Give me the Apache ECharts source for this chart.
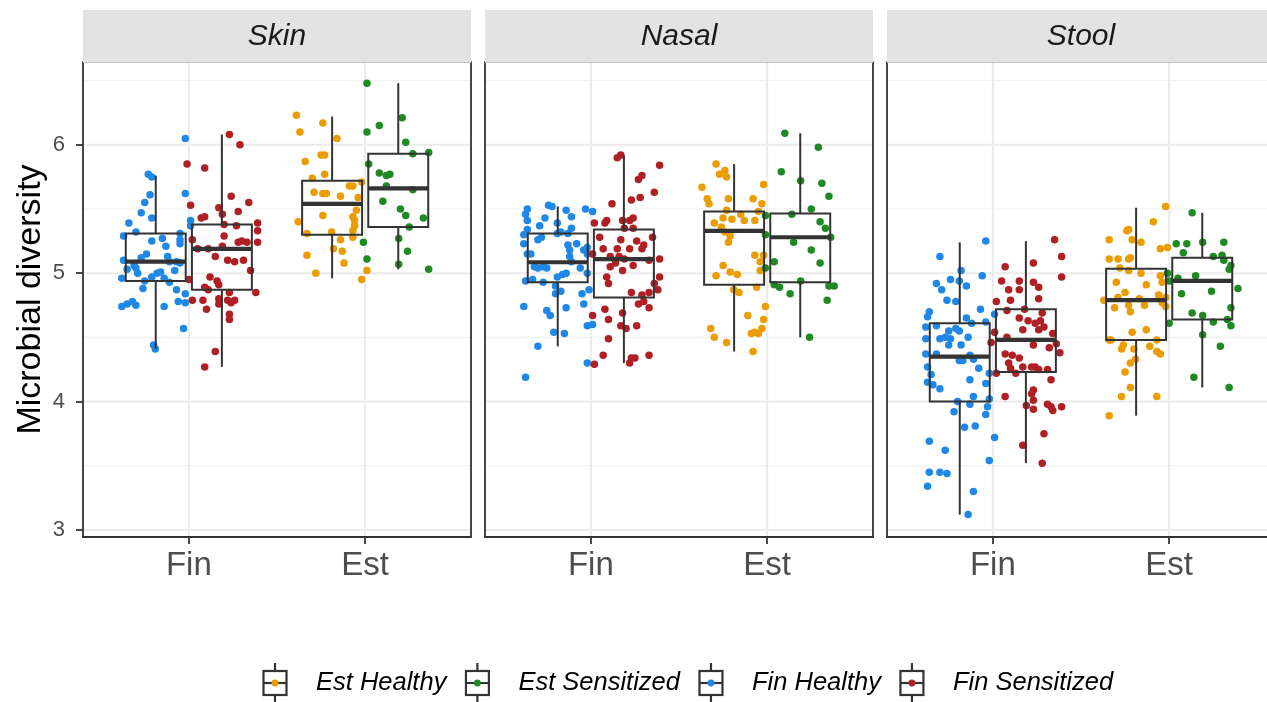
<!DOCTYPE html>
<html>
<head>
<meta charset="utf-8">
<script src="https://cdn.jsdelivr.net/npm/echarts@6/dist/echarts.min.js"></script>
<style>
html,body{margin:0;padding:0;background:#fff;}
#chart{width:1267px;height:702px;}
</style>
</head>
<body>
<div id="chart"></div>
<script>
// ---------------- DATA ----------------
const facets = ['Skin', 'Nasal', 'Stool'];
const xCats = ['Fin', 'Est'];
const yTicks = [3, 4, 5, 6];
const yMinorTicks = [3.5, 4.5, 5.5, 6.5];
const yTitle = 'Microbial diversity';
const groupNames = ['Fin Healthy', 'Fin Sensitized', 'Est Healthy', 'Est Sensitized'];
const legendOrder = ['Est Healthy', 'Est Sensitized', 'Fin Healthy', 'Fin Sensitized'];

// box stats: [lower whisker, Q1, median, Q3, upper whisker]
const skinBoxFinHealthy = [4.41, 4.94, 5.09, 5.31, 5.76];
const skinBoxFinSens    = [4.27, 4.87, 5.19, 5.38, 6.08];
const skinBoxEstHealthy = [4.96, 5.30, 5.54, 5.72, 6.22];
const skinBoxEstSens    = [5.03, 5.36, 5.66, 5.93, 6.48];
const nasalBoxFinHealthy = [4.43, 4.93, 5.085, 5.31, 5.52];
const nasalBoxFinSens    = [4.30, 4.81, 5.11, 5.34, 5.92];
const nasalBoxEstHealthy = [4.39, 4.91, 5.33, 5.48, 5.85];
const nasalBoxEstSens    = [4.50, 4.93, 5.28, 5.465, 6.09];
const stoolBoxFinHealthy = [3.12, 4.00, 4.35, 4.61, 5.24];
const stoolBoxFinSens    = [3.52, 4.23, 4.48, 4.72, 5.25];
const stoolBoxEstHealthy = [3.89, 4.48, 4.79, 5.035, 5.51];
const stoolBoxEstSens    = [4.11, 4.64, 4.94, 5.12, 5.47];

// jittered points: [x position on the category scale (Fin=1, Est=2), diversity]
const skinFinHealthy = [[0.98,6.05],[0.77,5.77],[0.79,5.75],[0.78,5.61],[0.75,5.55],[0.73,5.47],[0.79,5.43],[0.66,5.39],[0.70,5.32],[0.63,5.29],[0.79,5.25],[0.85,5.27],[0.87,5.21],[0.95,5.31],[0.95,5.26],[0.95,5.23],[0.98,5.62],[1.01,5.41],[1.01,5.37],[0.63,5.10],[0.65,5.03],[0.69,5.06],[0.71,5.00],[0.73,5.12],[0.76,5.15],[0.70,5.04],[0.88,5.13],[0.89,5.09],[0.92,5.02],[0.95,5.08],[0.93,5.09],[0.62,4.96],[0.75,4.94],[0.79,4.97],[0.82,5.00],[0.84,5.01],[0.86,4.96],[0.89,4.93],[0.74,4.88],[0.93,4.87],[0.98,4.84],[0.94,4.78],[0.98,4.77],[0.62,4.74],[0.65,4.76],[0.68,4.78],[0.70,4.75],[0.86,4.74],[0.97,4.57],[0.80,4.44],[0.81,4.41]];
const skinFinSens = [[1.23,6.08],[1.29,6.00],[0.99,5.85],[1.09,5.82],[1.24,5.60],[1.01,5.53],[1.34,5.55],[1.17,5.51],[1.19,5.46],[1.28,5.48],[1.07,5.43],[1.09,5.44],[1.20,5.38],[1.27,5.37],[1.39,5.39],[1.39,5.33],[1.02,5.26],[1.20,5.29],[1.05,5.19],[1.11,5.19],[1.19,5.21],[1.28,5.24],[1.30,5.25],[1.33,5.24],[1.39,5.24],[1.15,5.13],[1.22,5.10],[1.26,5.09],[1.31,5.10],[1.35,5.02],[1.00,4.95],[1.12,4.97],[1.16,4.94],[1.17,4.91],[1.09,4.89],[1.11,4.87],[1.23,4.85],[1.38,4.85],[1.02,4.79],[1.08,4.79],[1.17,4.80],[1.17,4.76],[1.22,4.79],[1.26,4.79],[1.24,4.77],[1.10,4.72],[1.23,4.68],[1.23,4.64],[1.15,4.39],[1.09,4.27]];
const skinEstHealthy = [[1.61,6.23],[1.63,6.10],[1.76,6.17],[1.84,6.05],[1.66,5.87],[1.75,5.92],[1.77,5.92],[1.70,5.74],[1.77,5.77],[1.91,5.68],[1.93,5.68],[1.98,5.71],[1.71,5.63],[1.76,5.62],[1.78,5.62],[1.86,5.60],[1.96,5.59],[1.76,5.45],[1.93,5.44],[1.95,5.49],[1.94,5.41],[1.62,5.40],[1.94,5.37],[1.93,5.33],[1.93,5.28],[1.67,5.31],[1.81,5.32],[1.86,5.26],[1.82,5.19],[1.87,5.17],[1.67,5.14],[1.88,5.08],[1.72,5.00],[2.01,5.02],[1.98,4.95]];
const skinEstSens = [[2.01,6.48],[2.08,6.15],[2.01,6.10],[2.21,6.21],[2.23,6.02],[2.27,5.93],[2.36,5.94],[2.02,5.85],[2.08,5.78],[2.12,5.76],[2.14,5.77],[2.12,5.68],[2.27,5.65],[2.10,5.56],[2.20,5.50],[2.23,5.45],[2.33,5.43],[2.25,5.36],[1.99,5.24],[2.19,5.27],[2.24,5.17],[2.01,5.11],[2.19,5.07],[2.36,5.03]];

const nasalFinHealthy = [[0.64,5.50],[0.63,5.46],[0.64,5.41],[0.76,5.53],[0.78,5.52],[0.86,5.49],[0.89,5.44],[0.97,5.50],[1.01,5.48],[0.74,5.43],[0.71,5.37],[0.64,5.34],[0.81,5.39],[0.83,5.32],[0.89,5.35],[0.62,5.30],[0.72,5.28],[0.70,5.26],[0.81,5.31],[0.87,5.31],[0.62,5.23],[0.64,5.15],[0.66,5.15],[0.87,5.22],[0.92,5.23],[0.88,5.18],[0.96,5.18],[0.98,5.20],[0.98,5.15],[0.94,5.04],[0.68,5.05],[0.70,5.04],[0.73,5.05],[0.75,5.04],[0.88,5.13],[0.89,5.09],[0.63,4.94],[0.67,4.95],[0.73,4.93],[0.81,4.97],[0.84,4.99],[0.86,5.00],[0.98,5.00],[0.80,4.90],[0.83,4.86],[0.80,4.84],[0.95,4.84],[0.99,4.87],[0.62,4.74],[0.75,4.71],[0.77,4.67],[0.86,4.73],[0.96,4.76],[0.79,4.54],[0.85,4.53],[0.98,4.59],[1.01,4.60],[0.70,4.43],[0.98,4.30],[0.63,4.19]];
const nasalFinSens = [[1.15,5.90],[1.17,5.92],[1.39,5.84],[1.27,5.73],[1.29,5.76],[1.36,5.63],[1.23,5.57],[1.28,5.59],[1.12,5.54],[1.02,5.39],[1.08,5.39],[1.09,5.41],[1.18,5.41],[1.22,5.41],[1.24,5.43],[1.24,5.35],[1.19,5.35],[1.05,5.28],[1.35,5.28],[1.17,5.26],[1.26,5.25],[1.30,5.22],[1.07,5.19],[1.15,5.19],[1.22,5.19],[1.29,5.19],[1.01,5.15],[1.11,5.13],[1.16,5.13],[1.19,5.11],[1.33,5.10],[1.39,5.11],[1.11,5.05],[1.24,5.06],[1.14,5.08],[1.18,5.02],[1.09,4.97],[1.10,4.92],[1.39,4.97],[1.36,4.92],[1.38,4.87],[1.23,4.85],[1.29,4.83],[1.33,4.85],[1.27,4.76],[1.33,4.73],[1.30,4.78],[1.08,4.72],[1.01,4.67],[1.18,4.69],[1.10,4.64],[1.17,4.59],[1.20,4.57],[1.26,4.59],[1.10,4.49],[1.07,4.36],[1.02,4.29],[1.22,4.30],[1.23,4.34],[1.25,4.34],[1.33,4.36]];
const nasalEstHealthy = [[1.71,5.85],[1.73,5.77],[1.76,5.80],[1.77,5.75],[1.63,5.67],[1.66,5.58],[1.67,5.54],[1.78,5.58],[1.92,5.58],[1.98,5.69],[1.97,5.54],[1.70,5.39],[1.75,5.43],[1.74,5.36],[1.80,5.42],[1.85,5.46],[1.87,5.41],[1.93,5.41],[1.95,5.48],[1.77,5.49],[1.79,5.29],[1.78,5.24],[1.76,5.32],[1.93,5.14],[1.98,5.14],[1.96,5.09],[1.96,5.02],[1.75,5.06],[1.79,5.01],[1.83,4.99],[1.71,4.98],[1.81,4.87],[1.84,4.85],[1.94,4.89],[1.99,4.74],[1.89,4.67],[1.98,4.64],[1.97,4.57],[1.95,4.53],[1.93,4.54],[1.91,4.53],[1.68,4.57],[1.70,4.50],[1.77,4.46],[1.92,4.39]];
const nasalEstSens = [[2.10,6.09],[2.29,5.98],[2.08,5.79],[2.19,5.72],[2.31,5.70],[2.35,5.60],[2.25,5.50],[2.14,5.46],[2.30,5.40],[2.33,5.35],[2.36,5.28],[1.99,5.30],[1.99,5.45],[2.15,5.24],[2.25,5.18],[2.04,5.09],[2.30,5.08],[1.99,5.04],[2.04,4.91],[2.07,4.89],[2.13,4.84],[2.35,4.90],[2.38,4.90],[2.19,4.94],[2.34,4.79],[2.24,4.50]];

const stoolFinHealthy = [[0.96,5.25],[0.70,5.13],[0.82,5.02],[0.76,4.95],[0.81,4.94],[0.68,4.92],[0.71,4.87],[0.85,4.90],[0.94,4.98],[0.74,4.79],[0.79,4.78],[0.64,4.70],[0.63,4.66],[0.93,4.72],[1.01,4.68],[0.85,4.65],[0.88,4.61],[0.96,4.62],[0.62,4.58],[0.68,4.59],[0.75,4.55],[0.79,4.57],[0.81,4.55],[0.62,4.49],[0.70,4.49],[0.73,4.50],[0.76,4.49],[0.75,4.44],[0.82,4.44],[0.86,4.50],[0.62,4.37],[0.68,4.37],[0.87,4.36],[0.89,4.33],[0.81,4.32],[0.83,4.32],[0.63,4.27],[0.92,4.26],[0.65,4.21],[0.98,4.22],[0.63,4.15],[0.66,4.13],[0.70,4.10],[0.87,4.17],[0.96,4.14],[0.89,4.04],[0.80,4.00],[0.87,3.98],[0.98,4.02],[0.97,3.96],[0.78,3.92],[0.96,3.90],[0.84,3.80],[0.90,3.81],[0.64,3.69],[1.01,3.72],[0.73,3.62],[0.98,3.54],[0.64,3.45],[0.70,3.45],[0.74,3.44],[0.63,3.34],[0.89,3.30],[0.86,3.12]];
const stoolFinSens = [[1.35,5.26],[1.39,5.13],[1.23,5.08],[1.39,4.97],[1.07,5.05],[1.05,4.94],[1.15,4.94],[1.23,4.93],[1.26,4.89],[1.09,4.87],[1.15,4.87],[1.26,4.80],[1.02,4.78],[1.10,4.79],[1.08,4.71],[1.18,4.72],[1.28,4.69],[1.15,4.65],[1.20,4.63],[1.24,4.61],[1.27,4.63],[1.29,4.58],[1.17,4.56],[1.26,4.56],[1.01,4.54],[1.34,4.53],[1.08,4.50],[0.99,4.46],[1.36,4.45],[1.32,4.42],[1.38,4.38],[1.23,4.44],[1.07,4.37],[1.11,4.36],[1.15,4.34],[1.09,4.30],[1.10,4.26],[1.17,4.27],[1.22,4.27],[1.24,4.27],[1.26,4.25],[1.31,4.25],[1.13,4.22],[1.02,4.22],[1.33,4.17],[1.23,4.09],[1.22,4.06],[1.23,4.01],[1.07,4.04],[1.19,3.97],[1.23,3.94],[1.31,3.98],[1.33,3.96],[1.34,3.93],[1.39,3.96],[1.29,3.75],[1.17,3.66],[1.28,3.52]];
const stoolEstHealthy = [[1.98,5.52],[1.91,5.40],[1.76,5.33],[1.77,5.34],[1.66,5.26],[1.79,5.26],[1.84,5.24],[1.95,5.19],[1.99,5.20],[1.66,5.11],[1.71,5.11],[1.77,5.11],[1.78,5.12],[1.72,5.04],[1.77,5.02],[1.84,5.00],[1.95,4.98],[1.96,4.93],[1.70,4.93],[1.87,4.91],[1.75,4.85],[1.71,4.81],[1.63,4.79],[1.83,4.80],[1.94,4.83],[1.96,4.77],[1.98,4.81],[1.86,4.75],[1.77,4.75],[1.69,4.73],[1.78,4.70],[1.98,4.74],[1.79,4.54],[1.87,4.56],[1.66,4.48],[1.67,4.48],[1.93,4.48],[1.74,4.44],[1.73,4.41],[1.80,4.41],[1.89,4.43],[1.93,4.39],[1.95,4.37],[1.81,4.33],[1.78,4.30],[1.75,4.23],[1.78,4.11],[1.73,4.04],[1.93,4.04],[1.66,3.89]];
const stoolEstSens = [[2.13,5.47],[2.04,5.23],[2.10,5.23],[2.19,5.24],[2.31,5.24],[2.08,5.16],[2.25,5.13],[2.30,5.14],[2.31,5.10],[2.35,5.06],[2.34,5.03],[1.99,5.00],[2.00,4.94],[2.05,4.96],[2.15,4.98],[2.39,4.88],[2.24,4.86],[2.07,4.84],[2.35,4.73],[2.13,4.69],[2.19,4.67],[2.25,4.62],[2.33,4.64],[2.35,4.59],[2.00,4.61],[2.19,4.52],[2.29,4.43],[2.14,4.19],[2.34,4.11]];

// ---------------- ASSEMBLY ----------------
const boxesByFacet = [
  [skinBoxFinHealthy, skinBoxFinSens, skinBoxEstHealthy, skinBoxEstSens],
  [nasalBoxFinHealthy, nasalBoxFinSens, nasalBoxEstHealthy, nasalBoxEstSens],
  [stoolBoxFinHealthy, stoolBoxFinSens, stoolBoxEstHealthy, stoolBoxEstSens]
];
const pointsByFacet = [
  [skinFinHealthy, skinFinSens, skinEstHealthy, skinEstSens],
  [nasalFinHealthy, nasalFinSens, nasalEstHealthy, nasalEstSens],
  [stoolFinHealthy, stoolFinSens, stoolEstHealthy, stoolEstSens]
];

// styles / layout
const colors = {'Est Healthy':'#ea9c00','Est Sensitized':'#1f8a24','Fin Healthy':'#1f88e6','Fin Sensitized':'#b01f24'};
const groupCat = [0, 0, 1, 1];        // which x category each group belongs to
const groupSide = [-1, 1, -1, 1];     // dodge side
const DODGE = 0.1875, BOX_W = 0.34;
const X_MIN = 0.4, X_MAX = 2.6, Y_MIN = 2.945, Y_MAX = 6.645;
const PANEL_LEFT = [83, 485, 887], PANEL_W = 388, PANEL_TOP = 62, PANEL_H = 475, STRIP_TOP = 10;
const FONT = '"Liberation Sans", Arial, Helvetica, sans-serif';
const DARK = '#333333';

function legendIcon(color){
  const svg = '<svg xmlns="http://www.w3.org/2000/svg" width="49" height="40" viewBox="0 0 49 40">'
   + '<line x1="13" y1="0" x2="13" y2="8" stroke="#333" stroke-width="2.2"/>'
   + '<rect x="1.5" y="8" width="23" height="24" fill="none" stroke="#333" stroke-width="2.2"/>'
   + '<line x1="1.5" y1="20" x2="24.5" y2="20" stroke="#333" stroke-width="2.2"/>'
   + '<line x1="13" y1="32" x2="13" y2="40" stroke="#333" stroke-width="2.2"/>'
   + '<circle cx="13" cy="20" r="3.4" fill="' + color + '"/></svg>';
  return 'image://data:image/svg+xml;charset=utf-8,' + encodeURIComponent(svg);
}

const grids = [], xAxes = [], yAxes = [], series = [], graphics = [];
facets.forEach((name, f) => {
  grids.push({left: PANEL_LEFT[f], top: PANEL_TOP, width: PANEL_W, height: PANEL_H,
    containLabel: false, outerBoundsMode: 'none'});
  xAxes.push({
    type: 'value', gridIndex: f, min: X_MIN, max: X_MAX,
    axisLine: {show: true, onZero: false, lineStyle: {color: DARK, width: 1.8}},
    axisTick: {show: true, length: 7, customValues: [1, 2], lineStyle: {color: DARK, width: 1.8}},
    axisLabel: {show: true, customValues: [1, 2], formatter: v => xCats[Math.round(v) - 1] || '',
      fontSize: 33, color: '#4d4d4d', margin: 12, fontFamily: FONT},
    splitLine: {show: false}
  });
  yAxes.push({
    type: 'value', gridIndex: f, min: Y_MIN, max: Y_MAX, position: 'left',
    axisLine: {show: true, onZero: false, lineStyle: {color: DARK, width: 1.8}},
    axisTick: {show: f === 0, length: 7, customValues: yTicks, lineStyle: {color: DARK, width: 1.8}},
    axisLabel: {show: f === 0, customValues: yTicks, fontSize: 22, color: '#4d4d4d', margin: 18, fontFamily: FONT},
    splitLine: {show: false},
    name: f === 0 ? yTitle : '', nameLocation: 'middle', nameGap: 35,
    nameTextStyle: {fontSize: 34, color: '#000', fontFamily: FONT}
  });
  yAxes.push({
    type: 'value', gridIndex: f, min: Y_MIN, max: Y_MAX, position: 'right',
    axisLine: {show: true, onZero: false, lineStyle: {color: DARK, width: 1.8}},
    axisTick: {show: false}, axisLabel: {show: false}, splitLine: {show: false}
  });

  // grid lines
  const gl = [];
  yTicks.forEach(v => gl.push([0, v]));
  yMinorTicks.forEach(v => gl.push([1, v]));
  [1, 2].forEach(v => gl.push([2, v]));
  series.push({
    type: 'custom', xAxisIndex: f, yAxisIndex: 2 * f, z: 0, silent: true,
    data: gl,
    renderItem: (params, api) => {
      const kind = api.value(0), v = api.value(1);
      const cs = params.coordSys;
      if (kind === 2) {
        const x = api.coord([v, Y_MIN])[0];
        return {type: 'line', shape: {x1: x, y1: cs.y, x2: x, y2: cs.y + cs.height},
          style: {stroke: '#ebebeb', lineWidth: 2}};
      }
      const y = api.coord([X_MIN, v])[1];
      return {type: 'line', shape: {x1: cs.x, y1: y, x2: cs.x + cs.width, y2: y},
        style: {stroke: kind === 0 ? '#ebebeb' : '#f1f1f1', lineWidth: kind === 0 ? 2 : 1.2}};
    }
  });

  // jittered points
  groupNames.forEach((g, gi) => {
    series.push({
      type: 'scatter', name: g, xAxisIndex: f, yAxisIndex: 2 * f, z: 2,
      symbol: 'circle', symbolSize: 7.5, silent: true,
      itemStyle: {color: colors[g], opacity: 1},
      data: pointsByFacet[f][gi]
    });
  });

  // boxes
  const bdata = boxesByFacet[f].map((b, gi) => [groupCat[gi] + 1 + groupSide[gi] * DODGE].concat(b));
  series.push({
    type: 'custom', xAxisIndex: f, yAxisIndex: 2 * f, z: 3, silent: true,
    encode: {x: 0, y: [1, 2, 3, 4, 5]},
    data: bdata,
    renderItem: (params, api) => {
      const xc = api.value(0);
      const lo = api.coord([xc, api.value(1)]);
      const q1 = api.coord([xc, api.value(2)]);
      const md = api.coord([xc, api.value(3)]);
      const q3 = api.coord([xc, api.value(4)]);
      const hi = api.coord([xc, api.value(5)]);
      const hw = api.size([BOX_W, 0])[0] / 2;
      const st = {stroke: DARK, lineWidth: 2, fill: null};
      return {type: 'group', children: [
        {type: 'line', shape: {x1: md[0], y1: hi[1], x2: md[0], y2: q3[1]}, style: st},
        {type: 'line', shape: {x1: md[0], y1: q1[1], x2: md[0], y2: lo[1]}, style: st},
        {type: 'rect', shape: {x: md[0] - hw, y: q3[1], width: 2 * hw, height: q1[1] - q3[1]}, style: {stroke: DARK, lineWidth: 2, fill: 'rgba(0,0,0,0)'}},
        {type: 'line', shape: {x1: md[0] - hw, y1: md[1], x2: md[0] + hw, y2: md[1]}, style: {stroke: DARK, lineWidth: 4.2}}
      ]};
    }
  });

  // facet strip
  graphics.push({type: 'rect', x: PANEL_LEFT[f], y: STRIP_TOP, shape: {width: PANEL_W, height: PANEL_TOP - STRIP_TOP},
    style: {fill: '#e3e3e3'}, z: 10, silent: true});
  graphics.push({type: 'line', shape: {x1: PANEL_LEFT[f], y1: PANEL_TOP + 0.5, x2: PANEL_LEFT[f] + PANEL_W, y2: PANEL_TOP + 0.5},
    style: {stroke: '#c4c4c4', lineWidth: 1.2}, z: 11, silent: true});
  graphics.push({type: 'text', x: PANEL_LEFT[f] + PANEL_W / 2, y: (STRIP_TOP + PANEL_TOP) / 2 + 1, z: 12, silent: true,
    style: {text: name, fontSize: 30, fontStyle: 'italic', fontFamily: FONT, fill: '#1a1a1a', align: 'center', verticalAlign: 'middle'}});
});

const option = {
  animation: false,
  backgroundColor: '#ffffff',
  grid: grids, xAxis: xAxes, yAxis: yAxes, series: series,
  graphic: {elements: graphics},
  legend: {
    left: 262, top: 663, orient: 'horizontal', itemWidth: 49, itemHeight: 40, itemGap: 18,
    padding: 0, selectedMode: false,
    textStyle: {fontSize: 25.5, fontStyle: 'italic', color: '#000', fontFamily: FONT},
    data: legendOrder.map(n => ({name: n, icon: legendIcon(colors[n])}))
  }
};
const chart = echarts.init(document.getElementById('chart'), null, {renderer: 'canvas'});
chart.setOption(option);
</script>
</body>
</html>
